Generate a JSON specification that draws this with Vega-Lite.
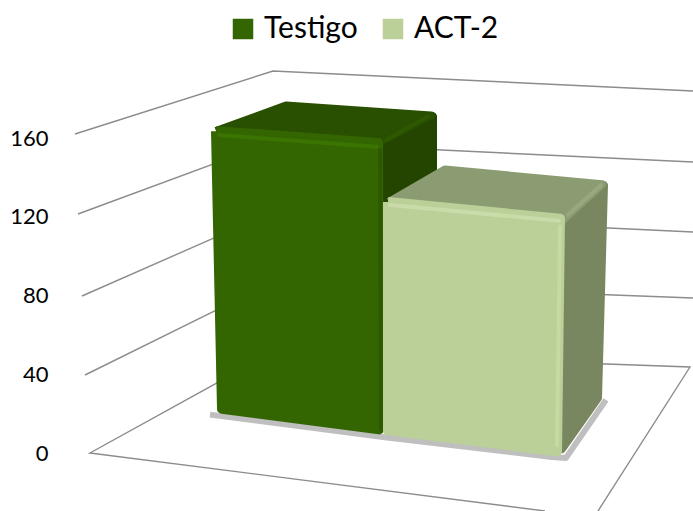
{
"$schema":"https://vega.github.io/schema/vega-lite/v6.json",
"width":693,"height":511,"autosize":{"type":"none"},"padding":0,"background":"white",
"config":{"view":{"stroke":null},"font":"Lato"},
"datasets":{
"grid":[
{"id":"160","o":1,"x":75,"y":162.03},{"id":"160","o":2,"x":273,"y":194.03},{"id":"160","o":3,"x":693,"y":183.87},
{"id":"120","o":1,"x":78,"y":121.4},{"id":"120","o":2,"x":273,"y":157.97},{"id":"120","o":3,"x":693,"y":147.81},
{"id":"80","o":1,"x":82,"y":79.75},{"id":"80","o":2,"x":273,"y":122.41},{"id":"80","o":3,"x":693,"y":112.25},
{"id":"40","o":1,"x":85,"y":39.62},{"id":"40","o":2,"x":273,"y":86.86},{"id":"40","o":3,"x":693,"y":78.73},
{"id":"0","o":1,"x":545,"y":-29.46},{"id":"0","o":2,"x":90,"y":0},{"id":"0","o":3,"x":273,"y":51.3},{"id":"0","o":4,"x":690,"y":43.68},{"id":"0","o":5,"x":598,"y":-29.46}
],
"shadow":[
{"id":"a","o":1,"x":210,"y":19.5},{"id":"a","o":2,"x":385,"y":8},
{"id":"b","o":1,"x":385,"y":8},{"id":"b","o":2,"x":552,"y":-2},{"id":"b","o":3,"x":566,"y":-2.5},{"id":"b","o":4,"x":606,"y":27}
],
"faces":[
{"face":"T-side","o":1,"x":380,"y":160.5},{"face":"T-side","o":2,"x":433,"y":171},{"face":"T-side","o":3,"x":433,"y":120},{"face":"T-side","o":4,"x":380,"y":103},{"face":"T-side","o":5,"x":380,"y":160.5},
{"face":"T-top","o":1,"x":216,"y":163.5},{"face":"T-top","o":2,"x":286,"y":176.5},{"face":"T-top","o":3,"x":431,"y":171.5},{"face":"T-top","o":4,"x":380,"y":158},{"face":"T-top","o":5,"x":216,"y":163.5},
{"face":"A-side","o":1,"x":563,"y":121},{"face":"A-side","o":2,"x":604,"y":136},{"face":"A-side","o":3,"x":598,"y":28},{"face":"A-side","o":4,"x":562,"y":2},{"face":"A-side","o":5,"x":563,"y":121},
{"face":"A-top","o":1,"x":389,"y":127.5},{"face":"A-top","o":2,"x":445,"y":144},{"face":"A-top","o":3,"x":602,"y":136.5},{"face":"A-top","o":4,"x":563,"y":118.5},{"face":"A-top","o":5,"x":389,"y":127.5}
],
"fronts":[
{"face":"Testigo","o":1,"x":216,"y":163.5},{"face":"Testigo","o":2,"x":378,"y":157.5},{"face":"Testigo","o":3,"x":379,"y":12},{"face":"Testigo","o":4,"x":222,"y":22.5},{"face":"Testigo","o":5,"x":216,"y":163.5},
{"face":"ACT-2","o":1,"x":388,"y":127.5},{"face":"ACT-2","o":2,"x":560,"y":119},{"face":"ACT-2","o":3,"x":557,"y":0.8},{"face":"ACT-2","o":4,"x":388,"y":11.5},{"face":"ACT-2","o":5,"x":388,"y":127.5}
],
"bevel":[
{"id":"t1","o":1,"x":219,"y":161.5},{"id":"t1","o":2,"x":377,"y":155.5},
{"id":"t2","o":1,"x":380,"y":154},{"id":"t2","o":2,"x":381,"y":12},
{"id":"t3","o":1,"x":386,"y":159},{"id":"t3","o":2,"x":428,"y":171},
{"id":"a1","o":1,"x":390,"y":126},{"id":"a1","o":2,"x":559,"y":118},
{"id":"a2","o":1,"x":560,"y":115},{"id":"a2","o":2,"x":557,"y":4},
{"id":"a3","o":1,"x":568,"y":121},{"id":"a3","o":2,"x":601,"y":136}
]
},
"encoding":{
"x":{"field":"x","type":"quantitative","scale":{"domain":[0,693]},"axis":null},
"y":{"field":"y","type":"quantitative","scale":{"domain":[-29.46,230.1],"nice":false,"zero":false},
"axis":{"title":null,"values":[0,40,80,120,160],"domain":false,"ticks":false,"grid":false,"offset":-48,"labelPadding":0,"labelFontSize":22,"labelColor":"#000000","labelFont":"Lato","encode":{"labels":{"update":{"dx":{"signal":"(160-datum.value)*0.1"}}}}}},
"order":{"field":"o","type":"quantitative"}
},
"resolve":{"scale":{"stroke":"independent"}},
"layer":[
{"data":{"name":"grid"},"mark":{"type":"line","stroke":"#8c8c8c","strokeWidth":1.4,"clip":true},"encoding":{"detail":{"field":"id"}}},
{"data":{"name":"shadow"},"mark":{"type":"line","stroke":"#8a8a8a","strokeWidth":6,"opacity":0.55,"strokeJoin":"round"},"encoding":{"detail":{"field":"id"}}},
{"data":{"name":"faces"},"mark":{"type":"line","strokeWidth":8,"strokeJoin":"round"},"encoding":{
"fill":{"field":"face","type":"nominal","scale":{"domain":["Testigo","ACT-2","T-side","T-top","A-side","A-top"],"range":["#336600","#bbcf98","#234500","#294f00","#788760","#8c9c72"]},
"legend":{"values":["Testigo","ACT-2"],"title":null,"orient":"none","legendX":228,"legendY":14,"direction":"horizontal","symbolType":"square","symbolSize":420,"symbolStrokeWidth":0,"labelFontSize":30,"labelFont":"Lato","labelColor":"#000000","columnPadding":20,"labelOffset":6}},
"stroke":{"field":"face","type":"nominal","legend":null,"scale":{"domain":["T-side","T-top","A-side","A-top"],"range":["#234500","#294f00","#788760","#8c9c72"]}}}},
{"data":{"name":"fronts"},"mark":{"type":"line","strokeWidth":10,"strokeJoin":"round"},"encoding":{
"fill":{"field":"face","type":"nominal","scale":{"domain":["Testigo","ACT-2","T-side","T-top","A-side","A-top"],"range":["#336600","#bbcf98","#234500","#294f00","#788760","#8c9c72"]},
"legend":{"values":["Testigo","ACT-2"],"title":null,"orient":"none","legendX":228,"legendY":14,"direction":"horizontal","symbolType":"square","symbolSize":420,"symbolStrokeWidth":0,"labelFontSize":30,"labelFont":"Lato","labelColor":"#000000","columnPadding":20,"labelOffset":6}},
"stroke":{"field":"face","type":"nominal","legend":null,"scale":{"domain":["Testigo","ACT-2"],"range":["#336600","#bbcf98"]}}}},
{"data":{"name":"bevel"},"mark":{"type":"line","strokeWidth":4,"strokeCap":"round","opacity":0.9},"encoding":{
"stroke":{"field":"id","type":"nominal","legend":null,"scale":{"domain":["t1","t2","t3","a1","a2","a3"],"range":["#3c7500","#2c5900","#2f5a00","#cbdcab","#c6d9a2","#9aaa80"]}}}}
]
}
